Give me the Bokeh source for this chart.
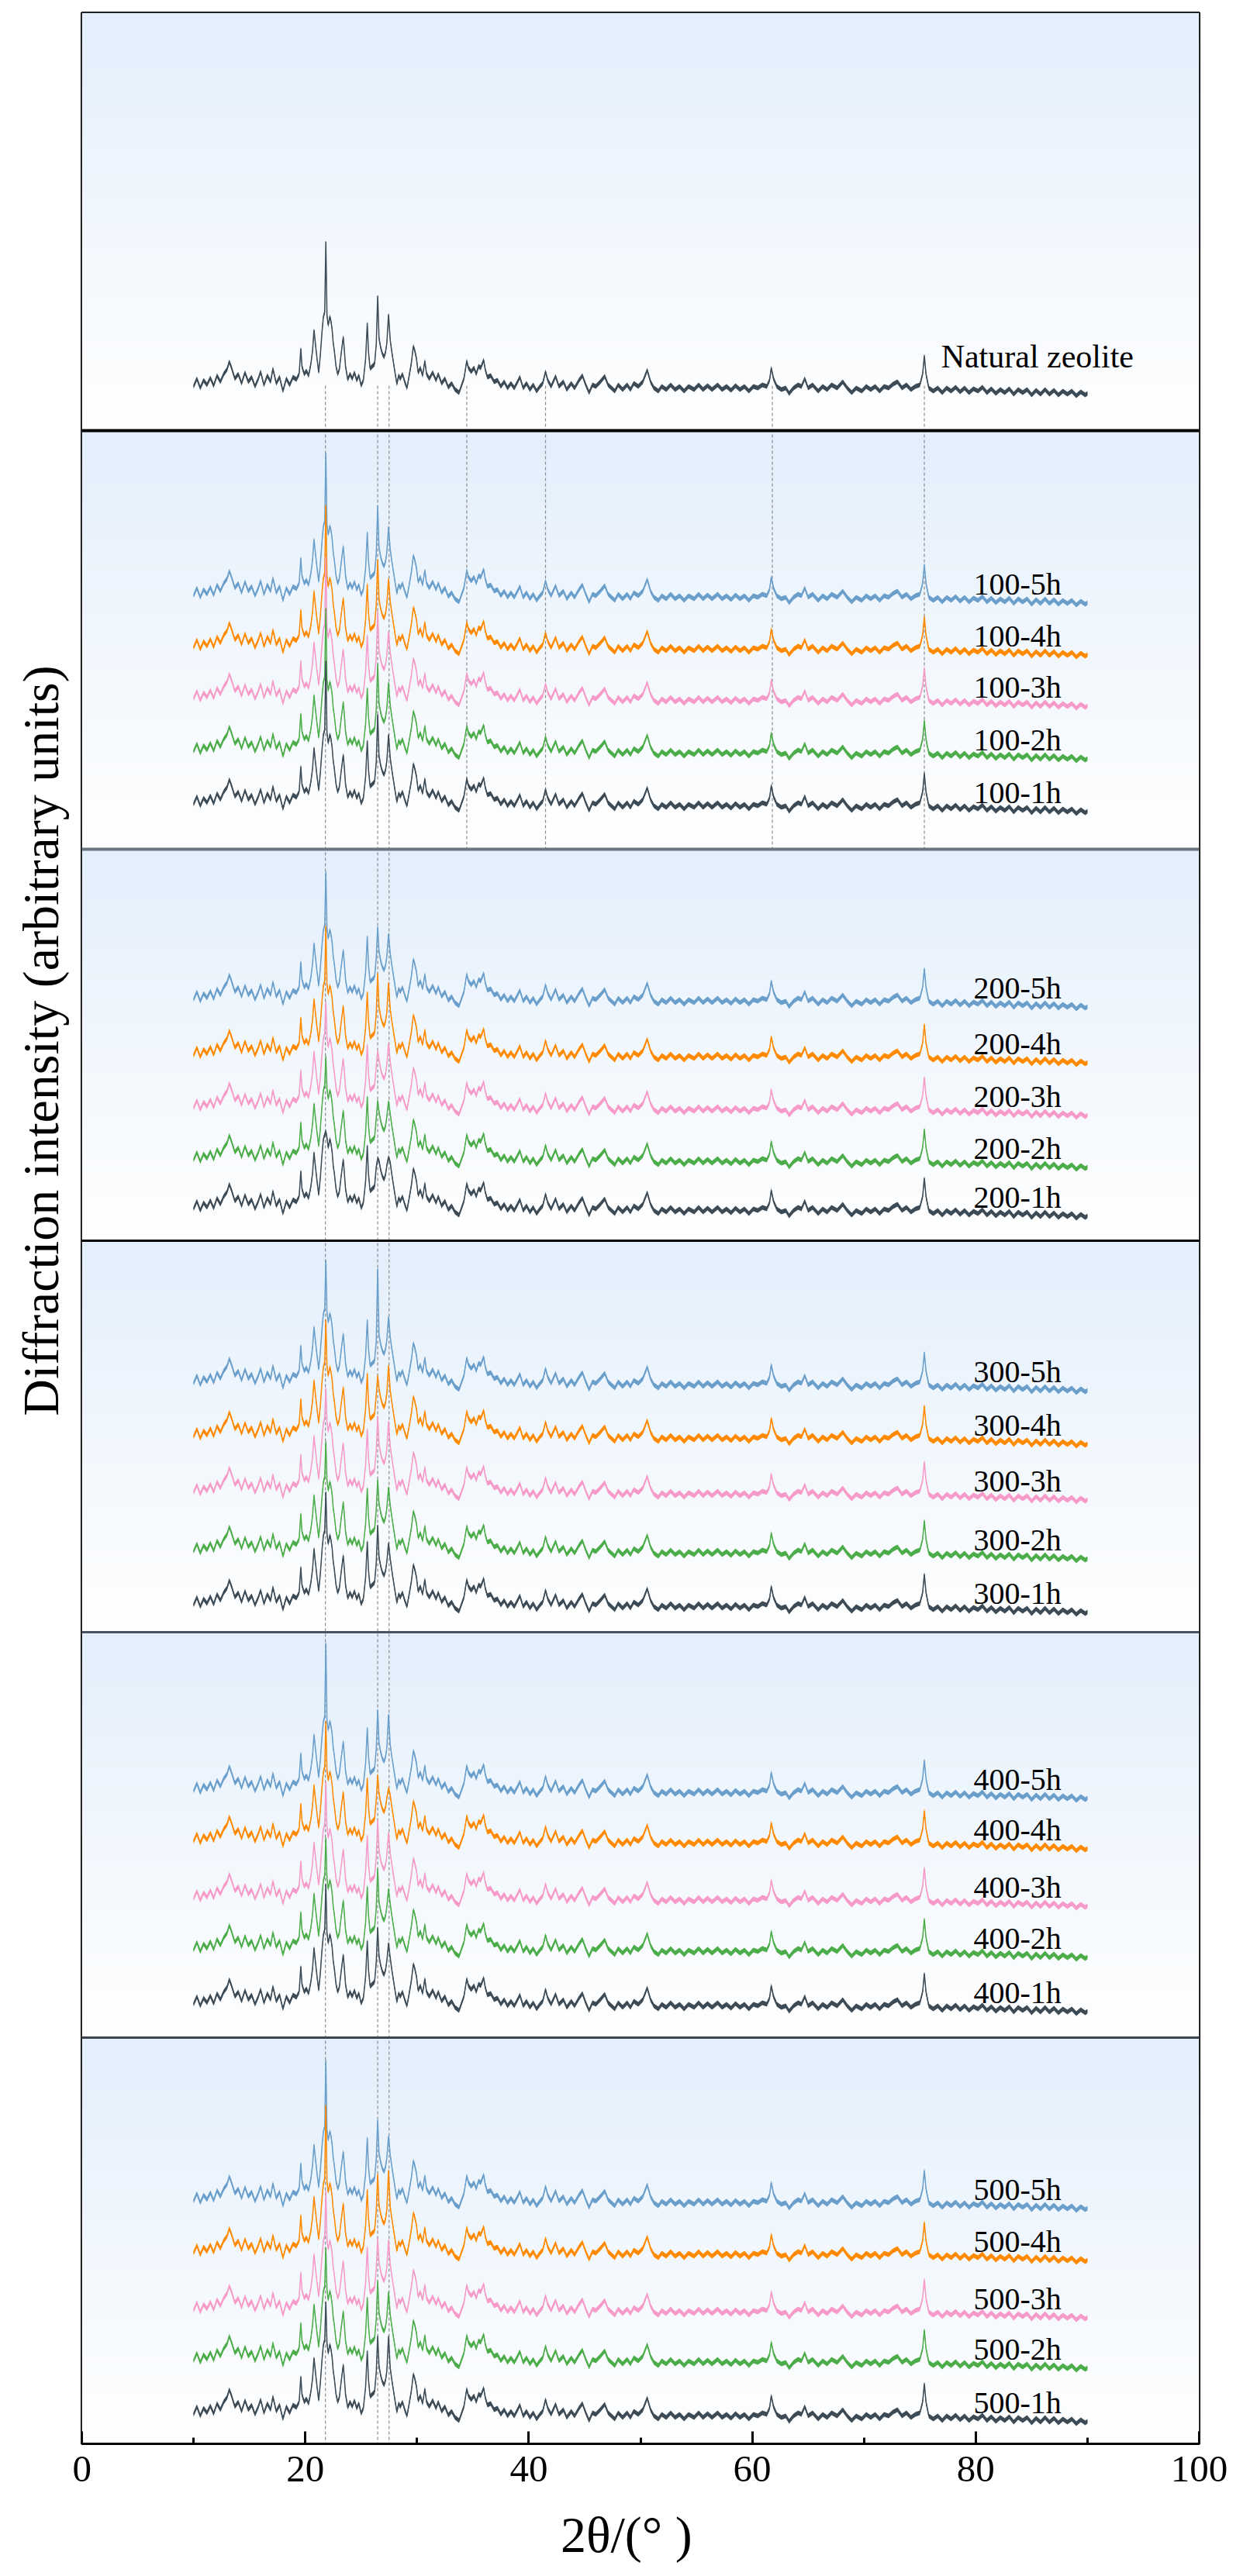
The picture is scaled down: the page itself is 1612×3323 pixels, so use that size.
# stacked XRD patterns of natural and treated zeolite, redrawn with bokeh

import numpy as np
from bokeh.plotting import figure
from bokeh.layouts import row, column
from bokeh.models import Range1d, FixedTicker, Span
from bokeh.core.properties import value
from bokeh.embed import file_html
from bokeh.resources import INLINE

# ---- data
# natural zeolite scan: (2theta in degrees, intensity in arbitrary units)
natural_scan = [
    (10.0, 14), (10.3, 24), (10.6, 12), (10.9, 22), (11.2, 16), (11.5, 25), (11.8, 15),
    (12.1, 28), (12.4, 20), (12.7, 30), (13.0, 36), (13.2, 46), (13.4, 38), (13.7, 24),
    (14.0, 30), (14.3, 18), (14.6, 32), (14.9, 20), (15.2, 26), (15.5, 14), (15.8, 24),
    (16.0, 33), (16.3, 16), (16.6, 28), (16.9, 20), (17.1, 37), (17.4, 18), (17.7, 26),
    (18.0, 8), (18.3, 24), (18.6, 16), (18.9, 26), (19.2, 23),
    (19.45, 30), (19.6, 63), (19.7, 40), (19.9, 30), (20.1, 34), (20.3, 28), (20.5, 43),
    (20.65, 60), (20.78, 87), (20.9, 70), (21.05, 50), (21.2, 32), (21.35, 55), (21.5, 85),
    (21.62, 104), (21.74, 110), (21.84, 201), (21.94, 106), (22.05, 93), (22.2, 104),
    (22.3, 98), (22.4, 88), (22.5, 70), (22.6, 60), (22.75, 40), (22.9, 30), (23.05, 36),
    (23.2, 55), (23.4, 78), (23.5, 60), (23.6, 40), (23.8, 23), (24.0, 30), (24.2, 24),
    (24.4, 32), (24.6, 22), (24.8, 28), (25.0, 15), (25.2, 22), (25.4, 50), (25.55, 96),
    (25.65, 60), (25.8, 37), (26.0, 40), (26.2, 43), (26.35, 68), (26.48, 131), (26.6, 76),
    (26.75, 64), (26.9, 56), (27.05, 52), (27.18, 58), (27.3, 70), (27.45, 107), (27.6, 74),
    (27.75, 58), (27.9, 44), (28.05, 30), (28.2, 17), (28.35, 28), (28.5, 24), (28.7, 30),
    (28.9, 20), (29.1, 12), (29.3, 28), (29.5, 45), (29.67, 66), (29.8, 60), (29.95, 50),
    (30.1, 32), (30.3, 38), (30.5, 28), (30.7, 47), (30.85, 30),
    (31.1, 24), (31.4, 32), (31.7, 22), (31.9, 30), (32.2, 18), (32.5, 24), (32.8, 13),
    (33.1, 18), (33.4, 10), (33.76, 6), (34.0, 16), (34.2, 24), (34.45, 47), (34.6, 38),
    (34.85, 33), (35.1, 38), (35.3, 30), (35.5, 40), (35.7, 38), (35.97, 48), (36.1, 36),
    (36.3, 26), (36.6, 28), (36.9, 20), (37.2, 22), (37.5, 14), (37.8, 20), (38.1, 12),
    (38.4, 18), (38.7, 12), (39.0, 20), (39.2, 26), (39.5, 12), (39.8, 18), (40.1, 10),
    (40.4, 16), (40.7, 8), (41.0, 14), (41.25, 18), (41.5, 33), (41.7, 22),
    (42.0, 14), (42.4, 27), (42.7, 14), (43.1, 20), (43.4, 10), (43.8, 18), (44.1, 12),
    (44.5, 22), (44.8, 28), (45.1, 16), (45.4, 6), (45.7, 16), (46.0, 14), (46.4, 20),
    (46.8, 27), (47.1, 16), (47.4, 12), (47.7, 8), (48.0, 16), (48.4, 10), (48.8, 16),
    (49.1, 10), (49.4, 18), (49.8, 14), (50.2, 20), (50.6, 35), (50.9, 20), (51.2, 12),
    (51.6, 8), (51.9, 14), (52.3, 10), (52.7, 16), (53.1, 10), (53.5, 14), (53.9, 8),
    (54.3, 14), (54.8, 10), (55.2, 16), (55.6, 10), (56.0, 15),
    (56.4, 10), (56.9, 16), (57.3, 10), (57.7, 14), (58.1, 9), (58.5, 15), (58.9, 10),
    (59.3, 14), (59.7, 8), (60.1, 14), (60.5, 12), (60.9, 16), (61.3, 14), (61.55, 22),
    (61.7, 38), (61.9, 24), (62.2, 14), (62.6, 10), (63.0, 12), (63.3, 5), (63.7, 12),
    (64.1, 16), (64.4, 14), (64.7, 24), (65.0, 12), (65.4, 16), (65.9, 8), (66.3, 14),
    (66.7, 10), (67.1, 16), (67.6, 12), (68.1, 20), (68.5, 12), (68.9, 6), (69.3, 12),
    (69.8, 8), (70.2, 14), (70.6, 10), (71.0, 14), (71.4, 8), (71.8, 14), (72.2, 12),
    (72.6, 17), (73.0, 20), (73.4, 12), (73.8, 16), (74.2, 10), (74.6, 14), (75.0, 16),
    (75.25, 30), (75.4, 54), (75.55, 30), (75.8, 12),
    (76.2, 8), (76.6, 12), (77.0, 6), (77.4, 12), (77.8, 8), (78.2, 13), (78.6, 7),
    (79.0, 12), (79.4, 6), (79.8, 11), (80.2, 8), (80.6, 13), (81.0, 6), (81.4, 11),
    (81.8, 5), (82.2, 10), (82.6, 6), (83.0, 11), (83.4, 4), (83.8, 10), (84.2, 6),
    (84.6, 10), (85.0, 3), (85.4, 9), (85.8, 4), (86.2, 10), (86.6, 4), (87.0, 9),
    (87.4, 3), (87.8, 8), (88.2, 4), (88.6, 8), (89.0, 2), (89.4, 7), (89.8, 3), (90.0, 5),
]
two_theta = [a for a, b in natural_scan]
natural_counts = [b for a, b in natural_scan]

# the treated samples keep the zeolite pattern; the three strongest
# reflections differ from sample to sample (apex heights read per curve)
peak_positions = [21.84, 26.48, 27.45]
temperatures = ["100", "200", "300", "400", "500"]
durations = ["5h", "4h", "3h", "2h", "1h"]
apex_heights = {
    "100": [[198, 130, 103], [198, 128, 103], [197, 127, 101], [199, 127, 103], [199, 130, 104]],
    "200": [[179, 108, 99], [181, 120, 108], [151, 88, 98], [148, 91, 90], [114, 79, 81]],
    "300": [[173, 162, 100], [165, 93, 106], [149, 113, 106], [156, 107, 97], [160, 117, 94]],
    "400": [[205, 119, 113], [169, 100, 83], [165, 116, 100], [159, 119, 93], [169, 113, 93]],
    "500": [[196, 119, 98], [205, 116, 121], [169, 107, 105], [160, 117, 103], [159, 115, 115]],
}

# reference lines (degrees)
long_refs = [21.8, 26.48, 27.5]
short_refs = [34.45, 41.5, 61.8, 75.4]

# ---- layout (pixel-like units, one unit per screen pixel)
panel_edges = [3136, 2597, 2057, 1552, 1047, 524, 0]
panel_lifts = [
    [43],
    [313, 246, 180, 112, 44],
    [297, 225, 157, 90, 27],
    [307, 238, 166, 90, 21],
    [304, 239, 165, 99, 29],
    [299, 232, 158, 93, 24],
]
colors = {"5h": "#6b9fcb", "4h": "#ff8a00", "3h": "#f69bc9", "2h": "#4cad4a", "1h": "#3d4b56"}
separators = [("black", 4), ("#6b7482", 4), ("black", 3), ("#4a525e", 3), ("#3d4450", 3)]
serif = "Liberation Serif"
noise = 3  # half thickness of the noisy trace

LABEL_W = 93          # strip holding the y title
MAIN_W, MAIN_H = 1503, 3225
XLAB_H = 82           # strip holding the x title

p = figure(width=MAIN_W, height=MAIN_H, x_range=Range1d(0, 100), y_range=Range1d(0, 3136),
           output_backend="svg", toolbar_location=None, y_axis_location=None,
           min_border_left=12, min_border_right=50, min_border_top=16, min_border_bottom=73,
           outline_line_color="black", outline_line_width=3)
p.grid.visible = False

# gradient backgrounds, light blue at the top of each panel to white
rows = 256
frac = np.linspace(0, 1, rows)
top_rgb = np.array([227, 239, 252])
rgb = 255 + (top_rgb[None, :] - 255) * frac[:, None]
grad = np.empty((rows, 1), dtype=np.uint32)
view = grad.view(dtype=np.uint8).reshape((rows, 1, 4))
view[:, 0, 0] = rgb[:, 0]
view[:, 0, 1] = rgb[:, 1]
view[:, 0, 2] = rgb[:, 2]
view[:, 0, 3] = 255
for top, bottom in zip(panel_edges[:-1], panel_edges[1:]):
    p.image_rgba(image=[grad], x=0, y=bottom, dw=100, dh=top - bottom)

# dashed reference lines
line_start = panel_edges[1] + 58
p.segment(x0=long_refs, y0=[line_start] * 3, x1=long_refs, y1=[0] * 3,
          line_color="#8c8c8c", line_width=1.2, line_dash="4 3")
p.segment(x0=short_refs, y0=[line_start] * 4, x1=short_refs, y1=[panel_edges[2]] * 4,
          line_color="#8c8c8c", line_width=1.2, line_dash="4 3")

x = np.array(two_theta)
base = np.array(natural_counts, dtype=float)


def trace(y, color):
    p.varea(x=x, y1=y - noise, y2=y + noise, fill_color=color)
    p.line(x, y, line_color=color, line_width=1.5)


# natural zeolite
ref = panel_edges[1] + panel_lifts[0][0]
trace(base + ref, colors["1h"])
p.text(x=[76.9], y=[ref + 53], text=["Natural zeolite"], text_font=value(serif),
       text_font_size="42px", text_baseline="alphabetic", text_align="left", text_color="black")

# treated samples
for k, temp in enumerate(temperatures):
    bottom = panel_edges[k + 2]
    lx, ly, lt = [], [], []
    for j, dur in enumerate(durations):
        counts = base.copy()
        for pos, h in zip(peak_positions, apex_heights[temp][j]):
            counts[two_theta.index(pos)] = h
        ref = bottom + panel_lifts[k + 1][j]
        trace(counts + ref, colors[dur])
        lx.append(79.8)
        ly.append(ref + 29)
        lt.append(temp + "-" + dur)
    p.text(x=lx, y=ly, text=lt, text_font=value(serif), text_font_size="40px",
           text_baseline="alphabetic", text_align="left", text_color="black")

# panel separators
for edge, (col, w) in zip(panel_edges[1:-1], separators):
    p.add_layout(Span(location=edge, dimension="width", line_color=col, line_width=w))

# x axis
ax = p.xaxis[0]
ax.ticker = FixedTicker(ticks=[0, 20, 40, 60, 80, 100], minor_ticks=[10, 30, 50, 70, 90])
ax.major_tick_in = 16
ax.major_tick_out = 0
ax.minor_tick_in = 8
ax.minor_tick_out = 0
ax.major_tick_line_width = 3
ax.minor_tick_line_width = 3
ax.major_tick_line_color = "black"
ax.minor_tick_line_color = "black"
ax.axis_line_width = 3
ax.axis_line_color = "black"
ax.major_label_text_font = serif
ax.major_label_text_font_size = "49px"
ax.major_label_text_color = "black"
ax.major_label_standoff = 16


def text_strip(w, h):
    f = figure(width=w, height=h, x_range=Range1d(0, w), y_range=Range1d(0, h),
               output_backend="svg", toolbar_location=None,
               x_axis_location=None, y_axis_location=None, outline_line_color=None,
               min_border=0, min_border_left=0, min_border_right=0,
               min_border_top=0, min_border_bottom=0)
    f.grid.visible = False
    return f


# y title, sitting a little above the middle like the original
ylab = text_strip(LABEL_W, MAIN_H + XLAB_H)
ylab.text(x=[52], y=[1965], text=["Diffraction intensity (arbitrary units)"], angle=90,
          angle_units="deg", text_align="center", text_baseline="middle",
          text_font=value(serif), text_font_size="66px", text_color="black")

# x title, centred under the frame
xlab = text_strip(MAIN_W, XLAB_H)
xlab.text(x=[12 + 1441 / 2], y=[38], text=["2θ/(° )"], text_align="center",
          text_baseline="middle", text_font=value(serif), text_font_size="66px",
          text_color="black")

layout = row(ylab, column(p, xlab))
open("out.html", "w").write(file_html(layout, INLINE))
